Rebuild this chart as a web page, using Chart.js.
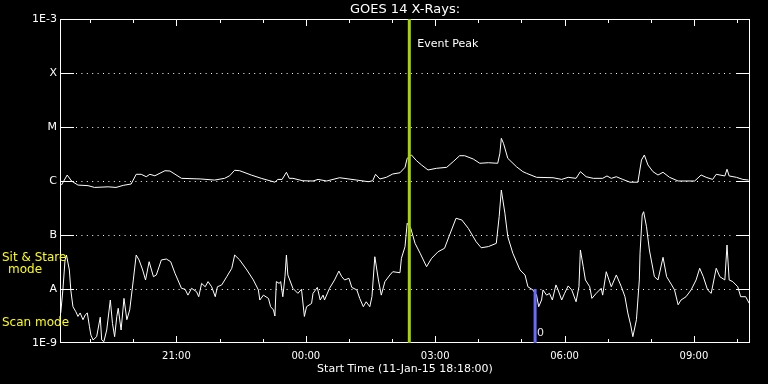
<!DOCTYPE html>
<html>
<head>
<meta charset="utf-8">
<script src="https://cdn.jsdelivr.net/npm/chart.js@4.4.1/dist/chart.umd.min.js"></script>
<style>
  html, body { margin: 0; padding: 0; background: #000; }
  #wrap { width: 768px; height: 384px; }
</style>
</head>
<body>
<div id="wrap"><canvas id="goesChart" width="768" height="384"></canvas></div>
<script>
// times are minutes since the start, 11-Jan-15 18:18:00
const longTimes = [2, 10, 16, 25, 39, 48, 67, 78, 88, 99, 106, 113, 120, 125, 132, 146, 153, 169, 196, 215,
  229, 236, 243, 250, 266, 280, 299, 303, 309, 315, 319, 324, 338, 352, 359, 371, 389, 413, 429, 435,
  439, 445, 454, 463, 473, 480, 483, 489, 496, 503, 512, 524, 538, 547, 556, 563, 575, 584, 596, 609,
  612, 614, 617, 623, 635, 644, 649, 663, 686, 698, 707, 718, 724, 732, 742, 755, 761, 767, 774, 783,
  793, 804, 809, 813, 818, 825, 832, 839, 848, 860, 883, 892, 899, 908, 913, 925, 928, 931, 941, 950, 958];
const longFlux = [8.4e-7, 1.29e-6, 1.0e-6, 8.4e-7, 8.2e-7, 7.6e-7, 7.8e-7, 7.6e-7, 8.3e-7, 8.8e-7,
  1.33e-6, 1.33e-6, 1.2e-6, 1.33e-6, 1.25e-6, 1.55e-6, 1.53e-6, 1.12e-6, 1.09e-6, 1.04e-6,
  1.12e-6, 1.25e-6, 1.58e-6, 1.55e-6, 1.29e-6, 1.12e-6, 9.5e-7, 1.07e-6, 1.07e-6, 1.45e-6,
  1.12e-6, 1.12e-6, 1.01e-6, 1.0e-6, 1.07e-6, 1.0e-6, 1.15e-6, 1.04e-6, 9.7e-7, 1.01e-6,
  1.33e-6, 1.09e-6, 1.17e-6, 1.35e-6, 1.42e-6, 1.79e-6, 2.63e-6, 3.03e-6, 2.38e-6, 1.98e-6,
  1.6e-6, 1.72e-6, 1.79e-6, 2.28e-6, 2.94e-6, 2.94e-6, 2.55e-6, 2.13e-6, 2.18e-6, 2.13e-6,
  3.26e-6, 6.17e-6, 4.99e-6, 2.63e-6, 1.84e-6, 1.49e-6, 1.39e-6, 1.17e-6, 1.15e-6, 1.07e-6,
  1.17e-6, 1.12e-6, 1.49e-6, 1.2e-6, 1.12e-6, 1.12e-6, 1.24e-6, 1.12e-6, 1.2e-6, 1.07e-6,
  9.5e-7, 9.5e-7, 2.45e-6, 3.03e-6, 1.98e-6, 1.49e-6, 1.29e-6, 1.45e-6, 1.17e-6, 1.0e-6,
  1.0e-6, 1.29e-6, 1.17e-6, 1.07e-6, 1.33e-6, 1.24e-6, 1.65e-6, 1.24e-6, 1.17e-6, 1.07e-6, 1.04e-6];

const shortTimes = [1, 4, 7, 9, 13, 15, 18, 22, 25, 28, 32, 35, 38, 41, 43, 46, 51, 56, 58, 61,
  65, 70, 73, 76, 79, 81, 85, 89, 93, 97, 102, 106, 110, 115, 119, 124, 130, 134, 141, 148,
  154, 160, 164, 169, 174, 178, 183, 190, 193, 197, 202, 206, 211, 216, 219, 225, 232, 239, 243, 250,
  260, 269, 276, 278, 283, 290, 293, 297, 299, 301, 305, 307, 310, 313, 315, 317, 324, 331, 336, 340,
  343, 350, 352, 358, 362, 366, 368, 375, 382, 388, 392, 396, 402, 406, 413, 417, 422, 426, 431, 434,
  438, 443, 447, 452, 459, 463, 473, 475, 480, 483, 488, 494, 501, 510, 517, 526, 535, 542, 551, 559,
  568, 579, 586, 596, 607, 611, 614, 619, 623, 630, 640, 647, 651, 658, 663, 666, 670, 672, 677, 681,
  685, 690, 693, 698, 702, 707, 712, 718, 722, 724, 728, 731, 737, 740, 746, 753, 755, 760, 767, 774,
  781, 786, 790, 794, 797, 802, 806, 807, 810, 812, 816, 820, 827, 832, 839, 844, 851, 855, 860, 864,
  871, 878, 885, 890, 895, 901, 906, 913, 918, 925, 928, 931, 936, 943, 947, 954, 959];
const shortFlux = [3.6e-9, 9.6e-9, 3.45e-8, 4.26e-8, 2.25e-8, 9.6e-9, 4.7e-9, 3.8e-9, 3.1e-9, 3.6e-9,
  2.7e-9, 3.3e-9, 3.6e-9, 2.0e-9, 1.4e-9, 1.14e-9, 1.31e-9, 3.0e-9, 1.14e-9, 1.06e-9,
  1.74e-9, 6.25e-9, 2.3e-9, 1.31e-9, 3.1e-9, 4.4e-9, 1.74e-9, 6.7e-9, 2.7e-9, 4.1e-9,
  1.47e-8, 4.26e-8, 3.45e-8, 2.25e-8, 1.47e-8, 3.2e-8, 1.69e-8, 1.82e-8, 3.45e-8, 3.59e-8,
  3.2e-8, 1.95e-8, 1.47e-8, 1.03e-8, 9.9e-9, 7.7e-9, 1.03e-8, 8.9e-9, 7.2e-9, 1.27e-8,
  1.1e-8, 1.37e-8, 1.1e-8, 7.2e-9, 1.1e-8, 1.19e-8, 1.69e-8, 2.42e-8, 4.26e-8, 3.45e-8,
  2.25e-8, 1.47e-8, 9.6e-9, 6.25e-9, 7.7e-9, 6.7e-9, 4.7e-9, 4.1e-9, 3.16e-9, 1.37e-8,
  1.27e-8, 1.37e-8, 7.2e-9, 1.69e-8, 4.26e-8, 1.82e-8, 1.03e-8, 8.3e-9, 9.9e-9, 3.1e-9,
  4.7e-9, 5.4e-9, 8.3e-9, 1.07e-8, 6.25e-9, 7.7e-9, 6.25e-9, 1.03e-8, 1.47e-8, 2.15e-8,
  1.69e-8, 1.47e-8, 1.58e-8, 1.07e-8, 9.6e-9, 6.7e-9, 4.7e-9, 5.8e-9, 4.7e-9, 7.2e-9,
  3.96e-8, 1.47e-8, 7.7e-9, 1.37e-8, 1.82e-8, 2.09e-8, 2.0e-8, 3.7e-8, 6.07e-8, 1.65e-7,
  1.33e-7, 7.0e-8, 4.6e-8, 2.59e-8, 3.7e-8, 4.9e-8, 5.67e-8, 1.0e-7, 2.04e-7, 1.9e-7,
  1.33e-7, 7.5e-8, 5.8e-8, 6.1e-8, 7.0e-8, 2.18e-7, 6.81e-7, 2.52e-7, 9.3e-8, 4.6e-8,
  2.25e-8, 1.82e-8, 1.1e-8, 9.6e-9, 7.7e-9, 4.7e-9, 6.25e-9, 9.6e-9, 7.7e-9, 8.3e-9,
  6.25e-9, 1.19e-8, 9.6e-9, 6.25e-9, 8.3e-9, 1.14e-8, 9.6e-9, 5.8e-9, 1.1e-8, 5.28e-8,
  2.59e-8, 1.47e-8, 1.1e-8, 6.7e-9, 8.3e-9, 1.03e-8, 7.7e-9, 2.09e-8, 1.1e-8, 1.82e-8,
  1.1e-8, 7.2e-9, 3.6e-9, 2.15e-9, 1.31e-9, 2.7e-9, 1.47e-8, 4.58e-8, 2.35e-7, 2.7e-7,
  1.42e-7, 5.28e-8, 1.69e-8, 1.47e-8, 3.86e-8, 1.69e-8, 1.19e-8, 9.6e-9, 5.1e-9, 6.25e-9,
  7.2e-9, 9.6e-9, 1.47e-8, 2.42e-8, 1.69e-8, 9.6e-9, 8.3e-9, 2.42e-8, 1.69e-8, 1.47e-8,
  6.52e-8, 1.47e-8, 1.37e-8, 1.1e-8, 7.2e-9, 7.2e-9, 5.4e-9];

const levelValues = [1e-9, 1e-8, 1e-7, 1e-6, 1e-5, 1e-4, 1e-3];
const levelLabels = ['1E-9', 'A', 'B', 'C', 'M', 'X', '1E-3'];
const hourTicks = [42, 102, 162, 222, 282, 342, 402, 462, 522, 582, 642, 702, 762, 822, 882, 942];
const majorTicks = [162, 342, 522, 702, 882];
const tickLabels = ['21:00', '00:00', '03:00', '06:00', '09:00'];
const eventPeakTime = 486;
const scanMarkTime = 661;

function toPoints(times, flux) {
    return times.map((t, i) => ({ x: t, y: flux[i] }));
}

// frame, level lines, inward ticks, markers and free text
const goesDecor = {
    id: 'goesDecor',
    beforeDatasetsDraw(chart) {
        const { ctx, chartArea: a, scales: { y } } = chart;
        ctx.save();
        ctx.strokeStyle = '#fff';
        ctx.lineWidth = 1;
        levelValues.slice(1, -1).forEach(v => {
            const py = Math.round(y.getPixelForValue(v)) + 0.5;
            ctx.setLineDash([]);
            ctx.beginPath();
            ctx.moveTo(a.left, py); ctx.lineTo(a.left + 14, py);
            ctx.moveTo(a.right - 14, py); ctx.lineTo(a.right, py);
            ctx.stroke();
            ctx.setLineDash([1, 4.4]);
            ctx.beginPath();
            ctx.moveTo(a.left + 16, py); ctx.lineTo(a.right - 16, py);
            ctx.stroke();
        });
        ctx.restore();
    },
    afterDatasetsDraw(chart) {
        const { ctx, chartArea: a, scales: { x, y } } = chart;
        ctx.save();
        ctx.strokeStyle = '#fff';
        ctx.lineWidth = 1;
        ctx.setLineDash([]);
        ctx.strokeRect(a.left + 0.5, a.top + 0.5, a.right - a.left - 1, a.bottom - a.top - 1);

        // hour ticks, pointing inwards on bottom and top edges
        ctx.beginPath();
        hourTicks.forEach(t => {
            const px = Math.round(x.getPixelForValue(t)) + 0.5;
            const len = majorTicks.includes(t) ? 7 : 4;
            ctx.moveTo(px, a.bottom); ctx.lineTo(px, a.bottom - len);
            ctx.moveTo(px, a.top); ctx.lineTo(px, a.top + len);
        });
        ctx.stroke();

        // event peak line
        const ex = x.getPixelForValue(eventPeakTime);
        ctx.strokeStyle = '#a6d600';
        ctx.lineWidth = 3;
        ctx.beginPath();
        ctx.moveTo(ex, a.top); ctx.lineTo(ex, a.bottom);
        ctx.stroke();

        // scan mode marker
        const sx = x.getPixelForValue(scanMarkTime);
        ctx.strokeStyle = '#6a6aff';
        ctx.beginPath();
        ctx.moveTo(sx, y.getPixelForValue(1e-8)); ctx.lineTo(sx, a.bottom);
        ctx.stroke();

        ctx.textBaseline = 'middle';
        ctx.fillStyle = '#fff';
        ctx.font = '11px "DejaVu Sans"';
        ctx.textAlign = 'left';
        ctx.fillText('Event Peak', ex + 8, 44);
        ctx.fillStyle = '#e8e8e8';
        ctx.fillText('0', sx + 2, 333);

        ctx.fillStyle = '#fff';
        ctx.textAlign = 'center';
        ctx.font = '13px "DejaVu Sans"';
        ctx.fillText('GOES 14 X-Rays:', (a.left + a.right) / 2, 10);
        ctx.font = '11px "DejaVu Sans"';
        ctx.fillText('Start Time (11-Jan-15 18:18:00)', (a.left + a.right) / 2, 369);

        ctx.fillStyle = '#ffff00';
        ctx.font = '12px "DejaVu Sans"';
        ctx.textAlign = 'left';
        ctx.fillText('Sit & Stare', 2, 258);
        ctx.fillText('Scan mode', 2, 323);
        ctx.textAlign = 'center';
        ctx.fillText('mode', 25, 270);
        ctx.restore();
    }
};

new Chart(document.getElementById('goesChart'), {
    type: 'line',
    data: {
        datasets: [
            {
                label: '1.0-8.0 A',
                data: toPoints(longTimes, longFlux),
                borderColor: '#fff',
                borderWidth: 1,
                pointRadius: 0,
                tension: 0
            },
            {
                label: '0.5-4.0 A',
                data: toPoints(shortTimes, shortFlux),
                borderColor: '#fff',
                borderWidth: 1,
                pointRadius: 0,
                tension: 0
            }
        ]
    },
    options: {
        responsive: false,
        animation: false,
        layout: { padding: { top: 19, right: 18, bottom: 0, left: 0 } },
        plugins: {
            legend: { display: false },
            tooltip: { enabled: false }
        },
        scales: {
            x: {
                type: 'linear',
                min: 0,
                max: 960,
                grid: { display: false, drawTicks: false },
                border: { display: false },
                afterBuildTicks: scale => { scale.ticks = hourTicks.map(v => ({ value: v })); },
                afterFit: scale => { scale.height = 41; },
                ticks: {
                    color: '#fff',
                    font: { family: 'DejaVu Sans', size: 10 },
                    padding: 7,
                    autoSkip: false,
                    maxRotation: 0,
                    callback: v => {
                        const i = majorTicks.indexOf(v);
                        return i >= 0 ? tickLabels[i] : '';
                    }
                }
            },
            y: {
                type: 'logarithmic',
                min: 1e-9,
                max: 1e-3,
                grid: { display: false, drawTicks: false },
                border: { display: false },
                afterBuildTicks: scale => { scale.ticks = levelValues.map(v => ({ value: v })); },
                afterFit: scale => { scale.width = 60; },
                ticks: {
                    color: '#fff',
                    font: { family: 'DejaVu Sans', size: 11 },
                    padding: 3,
                    callback: v => {
                        const i = levelValues.indexOf(v);
                        return i >= 0 ? levelLabels[i] : '';
                    }
                }
            }
        }
    },
    plugins: [goesDecor]
});
</script>
</body>
</html>
